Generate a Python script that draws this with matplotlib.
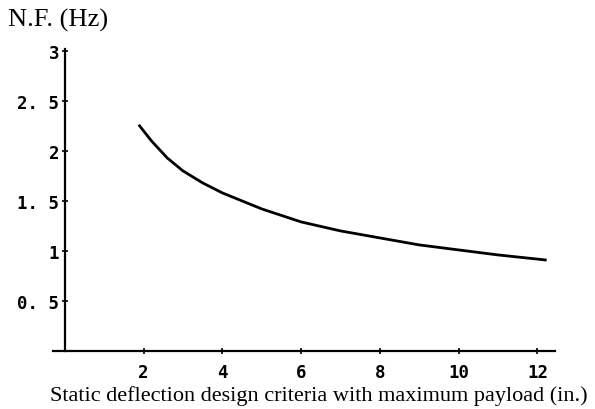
import matplotlib
matplotlib.use("Agg")
import matplotlib.pyplot as plt
from matplotlib.ticker import FuncFormatter

# values
deflection = [1.9, 2.2, 2.6, 3.0, 3.5, 4.0, 5.0, 6.0, 7.0, 8.0, 9.0, 10.0, 11.0, 12.2]
nat_freq = [2.25, 2.10, 1.93, 1.80, 1.68, 1.58, 1.42, 1.29, 1.20, 1.13, 1.06, 1.01, 0.96, 0.91]

x_ticks = [2, 4, 6, 8, 10, 12]
y_ticks = [0.5, 1, 1.5, 2, 2.5, 3]

fig = plt.figure(figsize=(5.95, 4.10), dpi=100)
ax = fig.add_axes([0.089, 0.1415, 0.844, 0.737])

ax.plot(deflection, nat_freq, color="black", lw=2)

ax.set_xlim(-0.3, 12.45)
ax.set_ylim(0, 3.02)
ax.spines["left"].set_position(("data", 0))
ax.spines["top"].set_visible(False)
ax.spines["right"].set_visible(False)
for s in ("left", "bottom"):
    ax.spines[s].set_linewidth(1.6)

ax.set_xticks(x_ticks)
ax.set_yticks(y_ticks)


def fmt(v, pos):
    s = "%g" % v
    return s.replace(".", ". ")


ax.yaxis.set_major_formatter(FuncFormatter(fmt))
ax.tick_params(direction="inout", length=4, width=1.2)
ax.tick_params(axis="x", pad=7)
ax.tick_params(axis="y", pad=2)
for lab in ax.get_xticklabels() + ax.get_yticklabels():
    lab.set_family("DejaVu Sans Mono")
    lab.set_fontweight("bold")
    lab.set_fontsize(12.5)

fig.text(0.013, 0.95, "N.F. (Hz)", family="Liberation Serif", fontsize=19,
         va="center", ha="left")
fig.text(0.536, 0.035, "Static deflection design criteria with maximum payload (in.)",
         family="Liberation Serif", fontsize=16, va="center", ha="center")

fig.savefig("out.png", dpi=100)
